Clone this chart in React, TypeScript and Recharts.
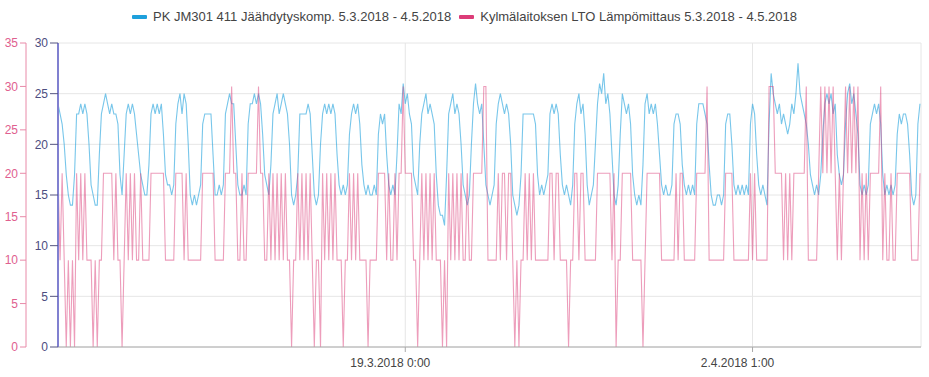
import { LineChart, Line, XAxis, YAxis, CartesianGrid } from "recharts";

// two-hour samples, one row of 12 per day, one array per week (starts 5.3.2018 0:00)
const blueWeek1 = [
  24, 23, 22, 20, 17, 15, 14, 14, 17, 23, 23, 24,
  23, 24, 23, 20, 16, 15, 14, 14, 19, 23, 24, 25,
  24, 23, 24, 23, 23, 22, 17, 15, 19, 23, 24, 23,
  24, 23, 21, 19, 17, 16, 15, 15, 18, 23, 24, 23,
  24, 23, 24, 21, 17, 16, 16, 15, 16, 22, 24, 25,
  23, 25, 24, 20, 15, 14, 15, 14, 15, 16, 22, 23,
  23, 23, 23, 19, 15, 15, 16, 15, 16, 23, 24, 25,
];
const blueWeek2 = [
  24, 24, 20, 16, 15, 15, 16, 15, 22, 24, 24, 25,
  24, 25, 24, 21, 17, 16, 15, 18, 23, 24, 25, 23,
  24, 25, 24, 23, 20, 15, 14, 15, 17, 23, 23, 23,
  23, 24, 23, 19, 15, 14, 15, 20, 23, 24, 23, 24,
  23, 24, 23, 19, 16, 15, 16, 15, 16, 21, 23, 24,
  23, 24, 22, 18, 16, 15, 16, 15, 15, 16, 15, 21,
  23, 22, 23, 19, 16, 15, 16, 15, 19, 24, 23, 26,
];
const blueWeek3 = [
  24, 25, 23, 22, 17, 16, 15, 20, 23, 24, 25, 23,
  24, 23, 22, 17, 14, 13, 13, 12, 17, 23, 24, 25,
  23, 24, 23, 20, 16, 15, 14, 15, 20, 24, 26, 24,
  23, 24, 20, 16, 15, 14, 15, 16, 22, 24, 25, 24,
  23, 24, 23, 20, 15, 14, 13, 14, 17, 23, 23, 23,
  23, 23, 23, 22, 17, 15, 16, 15, 16, 17, 23, 24,
  23, 24, 23, 19, 16, 15, 16, 15, 14, 16, 22, 24,
];
const blueWeek4 = [
  25, 23, 24, 21, 16, 14, 15, 16, 20, 24, 26, 25,
  27, 24, 25, 23, 19, 15, 14, 16, 21, 25, 24, 23,
  24, 22, 17, 15, 14, 15, 14, 18, 24, 25, 23, 24,
  23, 24, 22, 19, 16, 15, 16, 15, 15, 16, 22, 23,
  23, 22, 18, 16, 15, 16, 15, 16, 15, 22, 24, 24,
  24, 23, 22, 18, 15, 14, 14, 15, 15, 14, 15, 22,
  23, 23, 20, 16, 15, 16, 15, 16, 15, 16, 15, 22,
];
const blueWeek5 = [
  24, 23, 19, 16, 15, 16, 15, 14, 22, 27, 25, 24,
  23, 24, 22, 23, 22, 21, 22, 24, 23, 25, 28, 25,
  24, 23, 22, 20, 17, 16, 15, 16, 15, 17, 21, 24,
  25, 24, 25, 23, 24, 19, 17, 16, 17, 22, 25, 26,
  24, 25, 23, 21, 16, 15, 16, 15, 16, 22, 23, 24,
  23, 24, 22, 17, 15, 16, 15, 16, 15, 16, 21, 23,
  22, 23, 23, 22, 19, 15, 14, 15, 22, 24,
];

const pinkWeek1 = [
  20, 10, 20, 10, 0, 10, 0, 10, 0, 20, 10, 20,
  10, 20, 10, 10, 10, 0, 10, 0, 10, 10, 20, 20,
  20, 20, 20, 10, 20, 10, 10, 0, 10, 20, 10, 20,
  10, 20, 10, 10, 20, 10, 10, 10, 10, 20, 20, 20,
  20, 20, 20, 20, 10, 10, 10, 10, 10, 20, 20, 20,
  20, 10, 20, 10, 10, 10, 10, 10, 10, 10, 20, 20,
  20, 20, 20, 20, 10, 10, 10, 10, 10, 20, 20, 20,
];
const pinkWeek2 = [
  30, 20, 20, 10, 10, 20, 10, 10, 20, 20, 20, 20,
  20, 30, 20, 20, 10, 10, 20, 10, 20, 10, 20, 10,
  20, 10, 20, 10, 10, 0, 10, 10, 20, 10, 20, 10,
  20, 10, 20, 10, 0, 10, 10, 0, 20, 10, 20, 10,
  20, 10, 20, 10, 10, 10, 0, 10, 10, 20, 10, 20,
  10, 20, 10, 10, 10, 10, 0, 10, 10, 10, 10, 20,
  20, 20, 20, 10, 20, 10, 10, 20, 10, 20, 20, 30,
];
const pinkWeek3 = [
  20, 20, 20, 20, 10, 10, 0, 10, 20, 10, 20, 10,
  20, 10, 20, 10, 10, 10, 0, 10, 0, 20, 10, 20,
  10, 20, 10, 20, 10, 10, 20, 10, 10, 20, 20, 20,
  20, 20, 30, 30, 10, 10, 10, 10, 10, 20, 10, 20,
  20, 10, 20, 20, 10, 0, 10, 0, 10, 10, 20, 10,
  20, 10, 20, 10, 10, 10, 10, 10, 10, 10, 20, 20,
  10, 20, 20, 10, 10, 10, 10, 0, 10, 10, 20, 20,
];
const pinkWeek4 = [
  10, 20, 20, 10, 10, 10, 10, 10, 10, 20, 20, 20,
  20, 20, 20, 20, 10, 20, 0, 10, 10, 20, 20, 20,
  20, 20, 10, 10, 10, 10, 10, 0, 10, 20, 20, 20,
  20, 20, 20, 20, 10, 10, 10, 10, 10, 10, 10, 20,
  10, 20, 20, 10, 10, 10, 10, 10, 10, 20, 20, 20,
  20, 20, 30, 10, 10, 10, 10, 10, 10, 10, 10, 20,
  20, 20, 20, 10, 10, 10, 10, 10, 10, 10, 10, 20,
];
const pinkWeek5 = [
  10, 20, 10, 10, 10, 10, 10, 10, 30, 30, 30, 20,
  20, 20, 20, 10, 20, 10, 20, 10, 20, 20, 20, 20,
  20, 20, 30, 10, 10, 10, 10, 10, 20, 30, 20, 30,
  20, 30, 20, 30, 20, 10, 20, 10, 20, 30, 20, 30,
  20, 30, 20, 30, 10, 20, 10, 20, 10, 20, 20, 20,
  20, 20, 30, 10, 20, 10, 10, 20, 10, 10, 20, 20,
  20, 20, 20, 20, 20, 10, 10, 10, 10, 20,
];

const blueName = "PK JM301 411 Jäähdytyskomp. 5.3.2018 - 4.5.2018";
const pinkName = "Kylmälaitoksen LTO Lämpömittaus 5.3.2018 - 4.5.2018";

const xTicks = [336, 672];
const xTickLabels = ["19.3.2018 0:00", "2.4.2018 1:00"];
const blueTicks = [0, 5, 10, 15, 20, 25, 30];
const pinkTicks = [0, 5, 10, 15, 20, 25, 30, 35];
const stepHours = 2;

const blueValues = [...blueWeek1, ...blueWeek2, ...blueWeek3, ...blueWeek4, ...blueWeek5];
const pinkValues = [...pinkWeek1, ...pinkWeek2, ...pinkWeek3, ...pinkWeek4, ...pinkWeek5];
const data = blueValues.map((v, i) => ({ h: i * stepHours, blue: v, pink: pinkValues[i] }));

const font = "'Liberation Sans', Arial, sans-serif";
const BLUE = "#1ea0dc";
const PINK = "#dc3c78";

const XTick = (props: any) => {
  const { x, y, payload } = props;
  const idx = xTicks.indexOf(payload.value);
  return (
    <text x={x - 15} y={y + 13} textAnchor="middle" fill="#444" fontSize={12} fontFamily={font}>
      {idx >= 0 ? xTickLabels[idx] : ""}
    </text>
  );
};

function LegendItem({ color, label }: { color: string; label: string }) {
  return (
    <div style={{ display: "flex", alignItems: "center", marginRight: 8 }}>
      <div style={{ width: 15, height: 4, background: color, borderRadius: 1, marginRight: 6, marginTop: -1 }} />
      <span>{label}</span>
    </div>
  );
}

export default function App() {
  return (
    <div style={{ position: "absolute", left: 0, top: 0, width: 929, height: 377, background: "#fff" }}>
      <div
        style={{
          position: "absolute", left: 4, top: 8, width: 929, display: "flex", justifyContent: "center",
          fontFamily: font, fontSize: 13, color: "#444", lineHeight: "18px",
        }}
      >
        <LegendItem color={BLUE} label={blueName} />
        <LegendItem color={PINK} label={pinkName} />
      </div>
      <LineChart width={929} height={377} data={data} margin={{ top: 43, right: 8, bottom: 0, left: 0 }}>
        <CartesianGrid yAxisId="blue" stroke="#e6e6e6" />
        <XAxis
          dataKey="h" type="number" domain={[0, 835]} ticks={xTicks} height={30}
          stroke="#aaa" tickSize={5} tick={<XTick />} interval={0}
        />
        <YAxis
          yAxisId="blue" domain={[0, 30]} ticks={blueTicks} width={32} tickSize={8}
          axisLine={{ stroke: "#8080d0", strokeWidth: 2 }} tickLine={{ stroke: "#555580" }}
          tick={{ fill: "#4d4d80", fontSize: 12, fontFamily: font }}
        />
        <YAxis
          yAxisId="pink" domain={[0, 35]} ticks={pinkTicks} width={26} tickSize={6}
          axisLine={{ stroke: "#e88aa8" }} tickLine={{ stroke: "#e88aa8" }}
          tick={{ fill: "#e0608f", fontSize: 12, fontFamily: font }}
        />
        <Line
          yAxisId="blue" dataKey="blue" type="linear" stroke={BLUE} strokeOpacity={0.6}
          strokeWidth={1.1} dot={false} isAnimationActive={false}
        />
        <Line
          yAxisId="pink" dataKey="pink" type="linear" stroke={PINK} strokeOpacity={0.5}
          strokeWidth={1.1} dot={false} isAnimationActive={false}
        />
      </LineChart>
    </div>
  );
}
